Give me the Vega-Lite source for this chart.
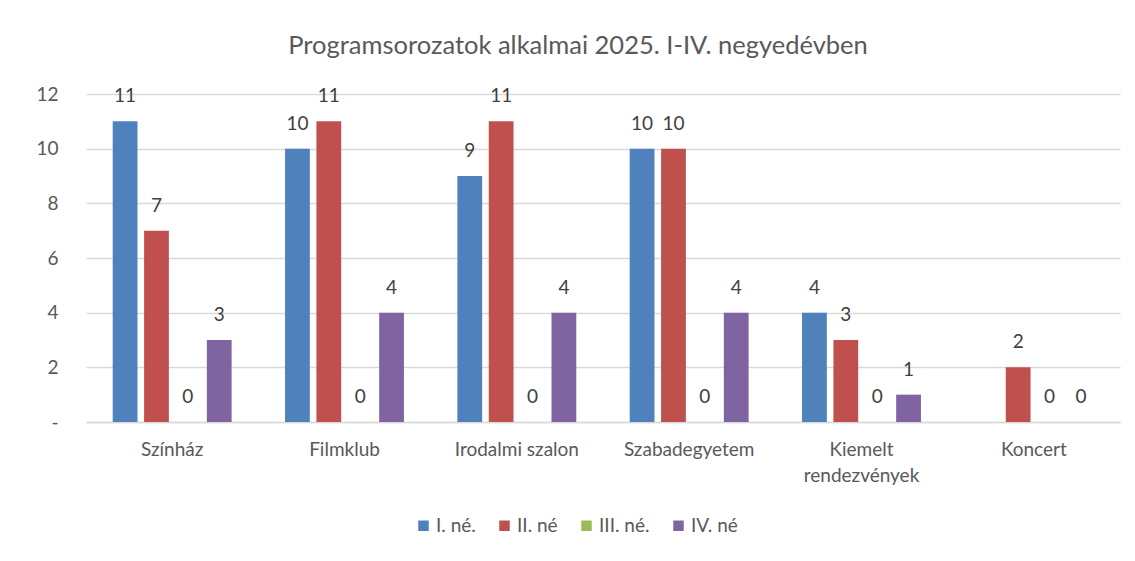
{
  "$schema": "https://vega.github.io/schema/vega-lite/v6.json",
  "autosize": {"type": "none"},
  "width": 1034,
  "height": 328,
  "padding": {"left": 86, "top": 94, "right": 15, "bottom": 139},
  "background": "white",
  "title": {
    "text": "Programsorozatok alkalmai 2025. I-IV. negyedévben",
    "font": "Lato",
    "fontSize": 25.5,
    "fontWeight": "normal",
    "color": "#595959",
    "offset": 26,
    "dx": -25,
    "anchor": "middle"
  },
  "config": {
    "view": {"stroke": null},
    "font": "Lato",
    "axis": {"labelFont": "Lato", "labelColor": "#595959", "labelFontSize": 19},
    "legend": {"labelFont": "Lato", "labelColor": "#595959", "labelFontSize": 19}
  },
  "data": {
    "values": [
      {"kategoria": "Színház", "negyedev": "I. né.", "ertek": 11},
      {"kategoria": "Színház", "negyedev": "II. né", "ertek": 7},
      {"kategoria": "Színház", "negyedev": "III. né.", "ertek": 0},
      {"kategoria": "Színház", "negyedev": "IV. né", "ertek": 3},
      {"kategoria": "Filmklub", "negyedev": "I. né.", "ertek": 10},
      {"kategoria": "Filmklub", "negyedev": "II. né", "ertek": 11},
      {"kategoria": "Filmklub", "negyedev": "III. né.", "ertek": 0},
      {"kategoria": "Filmklub", "negyedev": "IV. né", "ertek": 4},
      {"kategoria": "Irodalmi szalon", "negyedev": "I. né.", "ertek": 9},
      {"kategoria": "Irodalmi szalon", "negyedev": "II. né", "ertek": 11},
      {"kategoria": "Irodalmi szalon", "negyedev": "III. né.", "ertek": 0},
      {"kategoria": "Irodalmi szalon", "negyedev": "IV. né", "ertek": 4},
      {"kategoria": "Szabadegyetem", "negyedev": "I. né.", "ertek": 10},
      {"kategoria": "Szabadegyetem", "negyedev": "II. né", "ertek": 10},
      {"kategoria": "Szabadegyetem", "negyedev": "III. né.", "ertek": 0},
      {"kategoria": "Szabadegyetem", "negyedev": "IV. né", "ertek": 4},
      {"kategoria": "Kiemelt rendezvények", "negyedev": "I. né.", "ertek": 4},
      {"kategoria": "Kiemelt rendezvények", "negyedev": "II. né", "ertek": 3},
      {"kategoria": "Kiemelt rendezvények", "negyedev": "III. né.", "ertek": 0},
      {"kategoria": "Kiemelt rendezvények", "negyedev": "IV. né", "ertek": 1},
      {"kategoria": "Koncert", "negyedev": "I. né.", "ertek": null},
      {"kategoria": "Koncert", "negyedev": "II. né", "ertek": 2},
      {"kategoria": "Koncert", "negyedev": "III. né.", "ertek": 0},
      {"kategoria": "Koncert", "negyedev": "IV. né", "ertek": 0}
    ]
  },
  "encoding": {
    "x": {
      "field": "kategoria",
      "type": "nominal",
      "sort": ["Színház", "Filmklub", "Irodalmi szalon", "Szabadegyetem", "Kiemelt rendezvények", "Koncert"],
      "scale": {"paddingInner": 0.31, "paddingOuter": 0.155},
      "axis": {
        "title": null,
        "labelAngle": 0,
        "ticks": false,
        "domainColor": "#D9D9D9",
        "domainWidth": 1.5,
        "labelPadding": 18,
        "labelLineHeight": 26,
        "labelExpr": "datum.value == 'Kiemelt rendezvények' ? ['Kiemelt', 'rendezvények'] : datum.label"
      }
    },
    "xOffset": {
      "field": "negyedev",
      "type": "nominal",
      "sort": ["I. né.", "II. né", "III. né.", "IV. né"],
      "scale": {"paddingInner": 0.21, "paddingOuter": 0}
    },
    "y": {
      "field": "ertek",
      "type": "quantitative",
      "scale": {"domain": [0, 12]},
      "axis": {
        "title": null,
        "values": [0, 2, 4, 6, 8, 10, 12],
        "ticks": false,
        "domain": false,
        "gridColor": "#D9D9D9",
        "gridWidth": 1.5,
        "labelPadding": 28,
        "labelExpr": "datum.value == 0 ? '-' : datum.label"
      }
    }
  },
  "layer": [
    {
      "mark": {"type": "bar"},
      "encoding": {
        "color": {
          "field": "negyedev",
          "type": "nominal",
          "sort": ["I. né.", "II. né", "III. né.", "IV. né"],
          "scale": {
            "domain": ["I. né.", "II. né", "III. né.", "IV. né"],
            "range": ["#4F81BD", "#C0504D", "#9BBB59", "#8064A2"]
          },
          "legend": {
            "title": null,
            "orient": "none",
            "legendX": 328,
            "legendY": 422,
            "direction": "horizontal",
            "symbolType": "square",
            "symbolSize": 110,
            "symbolStrokeWidth": 0,
            "columnPadding": 19,
            "labelOffset": 3
          }
        }
      }
    },
    {
      "transform": [{"filter": "datum.ertek != null"}],
      "mark": {
        "type": "text",
        "baseline": "alphabetic",
        "dy": -19,
        "fontSize": 19,
        "color": "#404040",
        "font": "Lato"
      },
      "encoding": {
        "text": {"field": "ertek", "type": "quantitative"}
      }
    }
  ]
}
